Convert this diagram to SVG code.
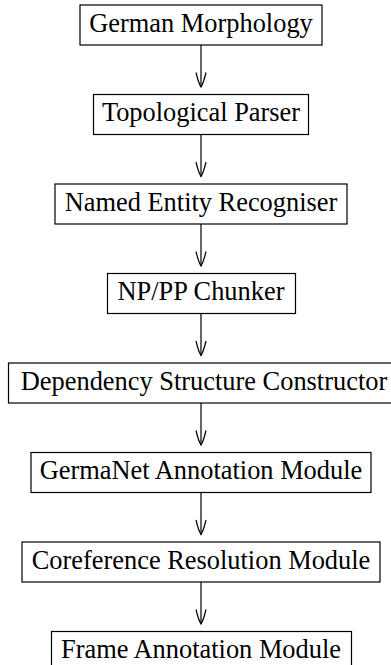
<svg xmlns="http://www.w3.org/2000/svg" width="391" height="665" viewBox="0 0 391 665">
  <style>
    .box { fill: #fff; stroke: #000; stroke-width: 1.2; }
    .lbl { font-family: "Liberation Serif", "Times New Roman", serif; font-size: 26.4px; fill: #000; text-anchor: middle; }
    .edge { fill: none; stroke: #000; stroke-width: 1.2; }
  </style>
  <defs>
    <!-- open curved V head, drawn along +x so orient="auto" turns it with the line -->
    <marker id="vhead" markerUnits="userSpaceOnUse" viewBox="-16 -8 18 16" refX="0" refY="0" markerWidth="18" markerHeight="16" orient="auto">
      <path d="M -14.5,-5 Q -4,-2.5 0,0 Q -4,2.5 -14.5,5" fill="none" stroke="#000" stroke-width="1.2"/>
    </marker>
  </defs>

  <g id="connectors">
    <path class="edge" d="M 201 45 V 87" marker-end="url(#vhead)"/>
    <path class="edge" d="M 201 134.5 V 176.5" marker-end="url(#vhead)"/>
    <path class="edge" d="M 201 224 V 266" marker-end="url(#vhead)"/>
    <path class="edge" d="M 201 313.5 V 355.5" marker-end="url(#vhead)"/>
    <path class="edge" d="M 201 403 V 445" marker-end="url(#vhead)"/>
    <path class="edge" d="M 201 492.5 V 534.5" marker-end="url(#vhead)"/>
    <path class="edge" d="M 201 582 V 624" marker-end="url(#vhead)"/>
  </g>

  <g id="german-morphology">
    <rect class="box" x="80" y="5" width="242" height="40"/>
    <text class="lbl" x="201" y="31.5">German Morphology</text>
  </g>
  <g id="topological-parser">
    <rect class="box" x="93.5" y="94.5" width="215" height="40"/>
    <text class="lbl" x="201" y="121">Topological Parser</text>
  </g>
  <g id="named-entity-recogniser">
    <rect class="box" x="55" y="184" width="292" height="40"/>
    <text class="lbl" x="201" y="210.5">Named Entity Recogniser</text>
  </g>
  <g id="np-pp-chunker">
    <rect class="box" x="107.5" y="273.5" width="188" height="40"/>
    <text class="lbl" x="201" y="300">NP/PP Chunker</text>
  </g>
  <g id="dependency-structure-constructor">
    <rect class="box" x="8.5" y="363" width="386" height="40"/>
    <text class="lbl" x="204" y="389.5">Dependency Structure Constructor</text>
  </g>
  <g id="germanet-annotation-module">
    <rect class="box" x="31" y="452.5" width="340" height="40"/>
    <text class="lbl" x="201" y="479">GermaNet Annotation Module</text>
  </g>
  <g id="coreference-resolution-module">
    <rect class="box" x="22" y="542" width="358" height="40"/>
    <text class="lbl" x="201" y="568.5">Coreference Resolution Module</text>
  </g>
  <g id="frame-annotation-module">
    <rect class="box" x="51.5" y="631.5" width="300" height="40"/>
    <text class="lbl" x="201" y="658">Frame Annotation Module</text>
  </g>
</svg>
